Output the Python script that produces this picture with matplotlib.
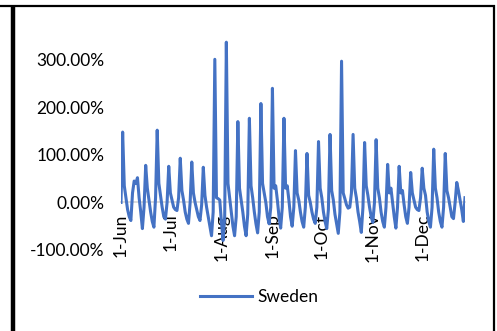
"""Daily percentage change in reported cases for Sweden, Jun-Dec 2020."""
import matplotlib
matplotlib.use("Agg")
import matplotlib.dates as mdates
import matplotlib.pyplot as plt
import numpy as np
from matplotlib.lines import Line2D
from matplotlib.ticker import FuncFormatter

START = np.datetime64("2020-06-01")

# Day-over-day change in %, first value is Mon 1 Jun, then one row per
# week running Tuesday..Monday (the last row is cut short at 27 Dec).
first_day = [0]
weeks = [
    [148, 35, 10, -15, -30, -38, 20],
    [45, 40, 52, 10, -20, -55, -10],
    [78, 30, 5, -20, -40, -52, 10],
    [152, 40, 15, -10, -30, -35, 0],
    [76, 20, 5, -10, -15, -17, 10],
    [93, 25, 5, -20, -35, -44, 0],
    [85, 20, 0, -15, -30, -38, -5],
    [74, 15, -10, -30, -50, -70, -20],
    [301, 10, 8, 5, -40, -80, -30],
    [337, 40, 10, -20, -50, -70, -30],
    [170, 30, 5, -20, -50, -70, -25],
    [177, 35, 10, -20, -45, -64, -20],
    [208, 40, 20, 0, -30, -45, -10],
    [240, 30, 35, 5, -30, -54, -10],
    [177, 30, 35, 5, -30, -50, -10],
    [109, 20, 5, -20, -40, -52, -10],
    [103, 15, 0, -20, -35, -44, -10],
    [128, 30, 10, -20, -40, -55, -15],
    [143, 25, 5, -25, -45, -65, -20],
    [297, 20, 8, -5, -12, -10, 20],
    [143, 30, 10, -20, -40, -63, -10],
    [126, 35, 15, -10, -30, -42, 0],
    [132, 30, 10, -20, -40, -52, -10],
    [80, 20, 30, 0, -30, -54, -10],
    [76, 20, 25, -5, -30, -44, -10],
    [63, 20, 5, -10, -15, -17, 10],
    [72, 30, 15, -20, -40, -52, -10],
    [112, 30, 10, -20, -40, -52, -10],
    [103, 25, 10, -10, -30, -34, 0],
    [42, 25, 5, -15, -40, 10],
]

series_name = "Sweden"
y_ticks = [-100, 0, 100, 200, 300]

pct = np.array(first_day + [v for w in weeks for v in w], dtype=float) / 100.0
dates = START + np.arange(len(pct))

W, H = 497, 331
FS = 12.5
fig = plt.figure(figsize=(W / 100, H / 100), dpi=100)
plt.rcParams["font.family"] = ["Lato", "DejaVu Sans"]

ax = fig.add_axes([121 / W, 1 - 250 / H, (465 - 121) / W, (250 - 36) / H])
ax.plot(dates.astype(object), pct,
        color="#4472C4", lw=2.2, solid_joinstyle="round", label=series_name)

ax.set_ylim(-1.0, 3.5)
ax.set_xlim(START.astype(object), dates[-1].astype(object))
ax.set_yticks([t / 100 for t in y_ticks])
ax.yaxis.set_major_formatter(FuncFormatter(lambda v, _: f"{v * 100:.2f}%"))

ax.xaxis.set_major_locator(mdates.MonthLocator())
ax.xaxis.set_major_formatter(FuncFormatter(
    lambda v, _: f"{mdates.num2date(v).day}-{mdates.num2date(v):%b}"))

# horizontal axis sits on the zero line, labels hang below it
for side in ("top", "right", "left"):
    ax.spines[side].set_visible(False)
ax.spines["bottom"].set_position(("data", 0))
ax.spines["bottom"].set_color("#d9d9d9")
ax.spines["bottom"].set_linewidth(1.3)
ax.spines["bottom"].set_zorder(0)
ax.tick_params(axis="x", length=0, pad=8, labelsize=FS, labelrotation=90)
ax.tick_params(axis="y", length=0, pad=12, labelsize=FS)
for lbl in ax.get_xticklabels():
    lbl.set_va("top")
ax.patch.set_alpha(0)

fig.legend(loc="center", bbox_to_anchor=(0.521, 1 - 297 / H), frameon=False,
           fontsize=FS, handlelength=3.0, handletextpad=0.3)

# chart frame: top rule, heavy left rule, thin right rule
px = fig.transFigure.inverted()
def frame(x0, y0, x1, y1, lw):
    (a, b), (c, d) = px.transform([(x0, H - y0), (x1, H - y1)])
    fig.add_artist(Line2D([a, c], [b, d], color="black", lw=lw,
                          transform=fig.transFigure, solid_capstyle="butt"))

frame(0, 5.5, 494.5, 5.5, 1.6)
frame(13, 4.5, 13, H, 3.2)
frame(493.5, 4.5, 493.5, H, 1.6)

fig.savefig("out.png", dpi=100)
